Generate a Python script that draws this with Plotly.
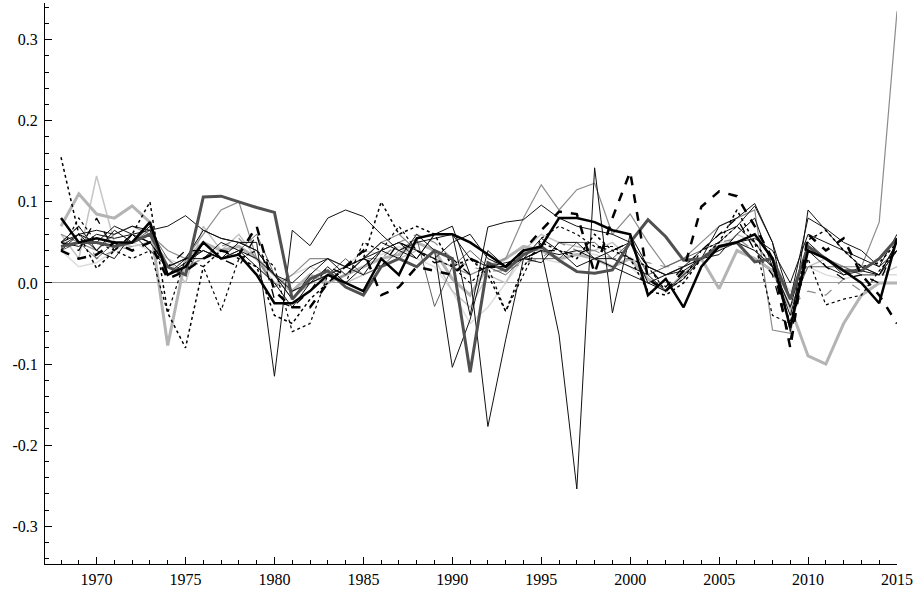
import plotly.graph_objects as go

years = [1968, 1969, 1970, 1971, 1972, 1973, 1974, 1975,
         1976, 1977, 1978, 1979, 1980, 1981, 1982, 1983,
         1984, 1985, 1986, 1987, 1988, 1989, 1990, 1991,
         1992, 1993, 1994, 1995, 1996, 1997, 1998, 1999,
         2000, 2001, 2002, 2003, 2004, 2005, 2006, 2007,
         2008, 2009, 2010, 2011, 2012, 2013, 2014, 2015]

# values in hundredths (percent)
lg_thin2 = [4, 2, 2.5, 4, 5, 4, 3, 2,
            3, 4, 3, 2, 0, 1, 2, 1,
            2, 4, 3.5, 4.5, 3, 2, -1, -5,
            -3, 0, 3, 3, 2.5, 4, 3.5, 3,
            2, 0, 1, 2, 3, 5, 5, 4,
            2, -1, 2, 1, 0.5, 1, 1, 1]
lg_thin = [6, 3, 13.2, 5, 4.5, 5, 3, 0,
           7, 4, 6, 3, 0, -1, 0, 1,
           0, 1, 2, 3, 4, 3, -1, -3,
           1, 0, 4, 6, 5, 4.5, 4, 5,
           3, 2, 1, 2, 3, 4, 6, 5,
           2, -2, 2, 3, 2, 1, 1, 2]
lg_thick = [7, 11, 8.5, 8, 9.5, 7.5, -7.7, 3,
            5, 4, 4.5, 3, 1, -1, 1, 0,
            1, 2, 3, 3.5, 5, 4, 0.5, -1.5,
            2, 3, 4.5, 4, 3, 3.5, 3, 2,
            3, 0.5, -1, 1, 3, -0.7, 4, 3,
            1.5, -3, -9, -10, -5, -1.5, 0, 0]
gray_thin = [6, 5, 4, 6, 7, 6, 4, 3,
             6, 9, 10, 3, -0.5, 1, 3, 3,
             2, 3, 5, 6, 4, 3, 2, 1,
             2, 3, 8, 12.1, 9, 11.5, 12.3, 6,
             8.5, 5, 2, 3, 5, 7, 8, 9,
             -5.8, -6.2, 4, 3, 2, 2, 7.5, 33.5]
gray_dash = [5, 7, 3, 4, 4.5, 5, 1, 2,
             3, 4.5, 5.5, 3, 0, -1, 0, 0,
             1, 3, 3, 5, 6, 5, 3, 2,
             1.5, 1.5, 2.5, 3, 5, 4, 4, 3,
             3, 2.5, 2, 2, 3, 5, 5.5, 4,
             2, -3, -1, -1.5, 0.5, -1, 1, 4]
dg_thin = [4, 5, 3, 5, 5, 6.5, 3, 1,
           5, 3, 4, 6, 1, -2, 0, 1,
           3, 1, 2, 4, 5.5, -2.9, 2, 4,
           2, 1, 3, 3, 3, 5, 5, 3,
           5, 1, 2, 3, 4, 5, 7, 5,
           2, -3, 2, 2, 2, 1, 1, 4]
k_thin_a = [5, 4.5, 6, 5.5, 6, 6.5, 1, 3,
            6.5, 5.5, 5, 5, -11.5, 6.5, 4.6, 8,
            9, 8.2, 6, 4, 5, 5.5, 6, 3,
            2, 2.5, 3, 4, 3.5, 4, 3, 2,
            1, 0, 1, 1.5, 3, 4.5, 5, 5.5,
            4, 0, 6, 5, 4, 3, 2, 4]
k_thin_b = [4, 6, 4, 6.5, 5, 7, 1, 2.5,
            4, 3, 4, 2, 0, -3, 0, 2,
            0, 2, 4, 3, 6, 4, -10.4, -4.5,
            4, 2, 3, 5.5, 4, 2, 3, 4,
            5, 2, 1, 2, 3, 4, 5, 4,
            2, -4, 4, 2, 1, 1.5, 1, 4]
k_thin_c = [5, 7, 4, 3, 6, 5, 2, 3,
            4, 3, 5, 4, 1, -1, 0, 1,
            2, 1, 4, 5, 3, 6, 7, 1,
            -17.7, -7, 3, 2.5, 5, 5, 3, 3,
            2, 1, -1, 1, 3, 3.5, 6, 8,
            2, -3, 5, 3, 1, 2, 1, 5]
k_thin_d = [5, 6, 5, 7, 6, 4, 2, 3,
            3, 5, 4, 3, 1, -2, 1, 3,
            2, 3, 4, 5, 4, 3, 5, 6,
            3, 2, 3, 4, -6.4, -25.4, 14.2, -3.7,
            6, 2, 1, 2, 4, 6, 7, 9.5,
            5, -6, 9, 6.5, 4, 2, 1, 5]
k_thin_e = [4.5, 6, 6.5, 6, 7, 6.5, 7, 8.3,
            6.5, 5.5, 5, 4, 1, 0, 2, 3,
            1, 3, 5, 4, 3, 6, 6, -4,
            6.9, 7.5, 7.8, 9.6, 8, 7, 6.5, 6,
            5, 0, -1, 0.5, 3, 7, 8, 9.8,
            5, -2, 8, 6.7, 5, 4, 2, 6]
k_dot = [15.5, 6, 1.8, 4, 6, 10, -3.7, -8,
         2, 4, 3, 2, -4, -5, -2, 0,
         2, 3, 10, 6, 7, 6, 2, 3,
         1, -3.5, 2, 5, 4, 3, 6, 4,
         3, -1, -1.5, 0, 3, 5, 9, 5,
         2, -5, 5.3, 6.5, 4, 2, 2.5, 5]
k_dot2 = [4, 8, 5, 4, 3, 4, -3.7, 3,
          2, -3.4, 3, 4, 2, -6, -5, 1,
          0, 5, 4, 7, 4, 3, 2, 0,
          2, -3.5, 1, 5.5, 7, 6, 4.5, 4.5,
          3, 2, -1, 0.5, 4, 5, 7, 5,
          -4, -5, 3, -2.7, -2, -1.5, 1.5, 4]
k_dash_thin = [5, 4, 8, 4, 6, 5, 2, 4,
               4, 3, 2, 6, -2, -3, -1, 2,
               1, 3, 2, 5, 4, 2.5, 3, 1,
               2, 2, 3, 4, 4, 3.5, 4.5, 4,
               5, 2, -0.5, 2, 4, 6, 8, 4,
               1, -7, 5, 2, 0.5, 1, 0, 5]
dg_thick = [4.5, 5, 5, 4.5, 5, 6, 2, 1,
            10.6, 10.7, 10, 9.3, 8.7, -2, 0.5, 1.5,
            -0.5, -1.5, 2, 3, 2, 4, 3, -11,
            2.5, 1.5, 3.5, 4.5, 2.8, 1.4, 1.2, 1.6,
            5, 7.8, 5.7, 2.8, 3, 4.5, 5, 2.6,
            3, -2, 4.5, 3, 1.5, 1.5, 3, 5.5]
k_dash_thick = [4, 3, 3.5, 5, 4, 5, 0.5, 1.5,
                3, 4, 3.5, 7, -1, -3, -3, 0,
                2, 4, -1.5, -0.5, 2, 1.5, 1, 3,
                2, 2, 4, 6.5, 8.8, 8.5, 1.2, 8,
                13.7, 0.5, -1, 1.5, 9.4, 11.3, 10.7, 7,
                3, -8, 6, 4, 5.5, 1, -1.5, -5]
k_thick = [8, 5, 5.5, 5, 5, 7.5, 1, 2,
           5, 3, 3.5, 1, -2.5, -2.5, -1, 1,
           0, -1, 3, 1, 5.5, 6, 6, 5,
           3.5, 2, 4, 4.5, 8, 8, 7.5, 6.5,
           6, -1.5, 0.5, -3, 2, 4.5, 5, 6,
           3, -5.5, 4, 3, 1.5, 0, -2.5, 5.5]

series = [
    (lg_thin2, "#dcdcdc", 1.5, "solid"),
    (lg_thin, "#c4c4c4", 1.5, "solid"),
    (lg_thick, "#b4b4b4", 3, "solid"),
    (gray_thin, "#8c8c8c", 1.2, "solid"),
    (gray_dash, "#8c8c8c", 1.2, "dash"),
    (dg_thin, "#606060", 1, "solid"),
    (k_thin_a, "#111111", 1, "solid"),
    (k_thin_b, "#111111", 1, "solid"),
    (k_thin_c, "#111111", 1, "solid"),
    (k_thin_d, "#111111", 1, "solid"),
    (k_thin_e, "#111111", 1, "solid"),
    (k_dot, "#000000", 1.5, "dot"),
    (k_dot2, "#000000", 1.2, "dot"),
    (k_dash_thin, "#000000", 1.3, "dash"),
    (dg_thick, "#505050", 3, "solid"),
    (k_dash_thick, "#000000", 2.5, "dash"),
    (k_thick, "#000000", 2.5, "solid"),
]

fig = go.Figure()
for vals, col, w, dash in series:
    fig.add_trace(go.Scatter(
        x=years, y=[v / 100 for v in vals], mode="lines",
        line=dict(color=col, width=w, dash=dash),
        showlegend=False, hoverinfo="skip"))

ytick_vals = [-0.3, -0.2, -0.1, 0.0, 0.1, 0.2, 0.3]
ytick_text = ["-0.3", "-0.2", "-0.1", "0.0", "0.1", "0.2", "0.3"]
xtick_vals = [1970, 1975, 1980, 1985, 1990, 1995, 2000, 2005, 2010, 2015]

font = dict(family="Liberation Serif, Times New Roman, serif", size=16, color="#000")

fig.update_layout(
    template="none",
    width=919, height=591,
    margin=dict(l=45, r=22, t=3, b=27, pad=0),
    paper_bgcolor="white", plot_bgcolor="white",
    font=font,
    xaxis=dict(range=[1967.1, 2015], tickmode="array", tickvals=xtick_vals,
               ticks="inside", ticklen=7, tickwidth=1, tickcolor="#000",
               minor=dict(dtick=1, tick0=1968, ticks="inside", ticklen=4,
                          tickcolor="#000", showgrid=False),
               showline=True, linecolor="#000", linewidth=1, mirror=False,
               showgrid=False, zeroline=False, automargin=False,
               tickfont=font, ticklabelstandoff=1),
    yaxis=dict(range=[-0.3465, 0.3452], tickmode="array", tickvals=ytick_vals,
               ticktext=ytick_text,
               ticks="inside", ticklen=7, tickwidth=1, tickcolor="#000",
               minor=dict(dtick=0.02, tick0=0, ticks="inside", ticklen=4,
                          tickcolor="#000", showgrid=False),
               showline=True, linecolor="#000", linewidth=1, mirror=False,
               showgrid=False, zeroline=True, zerolinecolor="#999",
               zerolinewidth=1, automargin=False, tickfont=font,
               ticklabelstandoff=3),
)

fig.write_html("out.html")
